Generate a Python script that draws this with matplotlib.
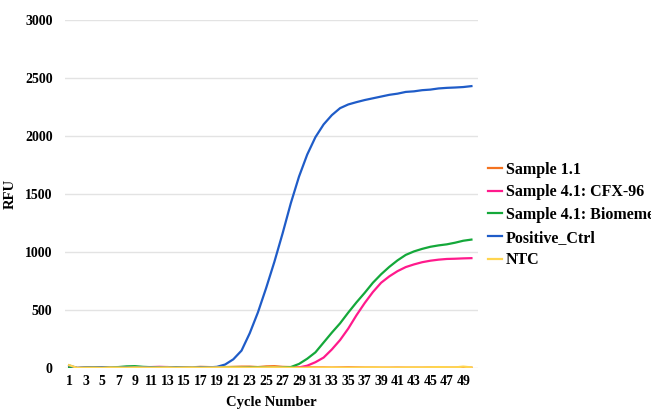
import matplotlib.pyplot as plt

cycles = list(range(1, 51))

sample_1_1 = [5, 0, 2, 3, 5, 4, 3, 5, 6, 5, 4, 6, 8, 5, 4, 6, 10, 8, 6, 8,
              10, 12, 12, 8, 14, 16, 10, 8, 6, 6, 5, 5, 4, 5, 6, 5, 4, 4, 3, 3,
              4, 3, 3, 3, 4, 3, 3, 3, 4, 3]
sample_cfx96 = [3, 0, 2, 4, 3, 5, 4, 6, 5, 7, 8, 10, 8, 6, 5, 4, 5, 6, 4, 5,
                4, 3, 5, 4, 3, 4, 3, 2, 5, 20, 50, 90, 160, 241, 340, 455, 560, 655, 735, 790,
                835, 870, 893, 912, 925, 934, 940, 942, 945, 947]
sample_biomeme = [4, 0, 3, 5, 4, 6, 8, 14, 16, 10, 7, 6, 5, 6, 4, 5, 6, 5, 4, 6,
                  5, 4, 5, 6, 5, 4, 5, 8, 35, 80, 135, 220, 305, 385, 478, 566, 648, 735, 808, 872,
                  928, 975, 1005, 1027, 1045, 1057, 1066, 1080, 1097, 1107]
positive_ctrl = [22, 0, 3, 4, 6, 4, 3, 5, 4, 6, 5, 4, 6, 5, 4, 5, 6, 5, 10, 30,
                 75, 150, 300, 480, 690, 915, 1160, 1420, 1650, 1840, 1990, 2100, 2180, 2240, 2272, 2292, 2310, 2325, 2340, 2355,
                 2365, 2380, 2385, 2395, 2400, 2410, 2415, 2418, 2422, 2430]
ntc = [25, 0, 2, 3, 2, 5, 4, 3, 5, 4, 3, 4, 5, 3, 4, 5, 3, 4, 5, 6,
       5, 4, 3, 4, 5, 6, 4, 3, 2, 3, 2, 3, 4, 3, 2, 3, 4, 5, 4, 3,
       3, 4, 5, 4, 6, 8, 6, 5, 12, 5]

names = ["Sample 1.1", "Sample 4.1: CFX-96", "Sample 4.1: Biomeme",
         "Positive_Ctrl", "NTC"]
series = [sample_1_1, sample_cfx96, sample_biomeme, positive_ctrl, ntc]
colors = ["#F4731F", "#FF1A8C", "#14A83A", "#1F5CC8", "#FFD54F"]

plt.rcParams['font.family'] = ['Liberation Serif', 'DejaVu Serif']
plt.rcParams['font.weight'] = 'bold'

fig = plt.figure(figsize=(6.51, 4.09), dpi=100)
ax = fig.add_axes([65 / 651, 1 - 368 / 409, 413 / 651, 348 / 409])

for name, vals, col in zip(names, series, colors):
    ax.plot(cycles, vals, color=col, lw=1.6, label=name)

ax.set_xlim(0.5, 50.8)
ax.set_ylim(0, 3000)
ax.set_xticks(list(range(1, 50, 2)))
ax.set_yticks(range(0, 3001, 500))
ax.tick_params(axis='x', length=0, labelsize=10, pad=5)
ax.tick_params(axis='y', length=0, labelsize=10, pad=9)
for lbl in ax.get_xticklabels() + ax.get_yticklabels():
    lbl.set_fontweight('bold')
ax.grid(axis='y', color='#e3e3e3', lw=1)
ax.set_axisbelow(True)
for s in ax.spines.values():
    s.set_visible(False)

ax.set_xlabel("Cycle Number", fontsize=10.5, fontweight='bold', labelpad=6)
ax.set_ylabel("RFU", fontsize=10.5, fontweight='bold')
ax.yaxis.set_label_coords(-0.116, 0.5)

fig.legend(loc='center left', bbox_to_anchor=(488 / 651, 1 - 215 / 409),
           frameon=False, handlelength=0.9, handletextpad=0.2,
           labelspacing=0.42, borderpad=0, borderaxespad=0,
           prop={'weight': 'bold', 'size': 11.5})

fig.savefig("out.png", dpi=100)
